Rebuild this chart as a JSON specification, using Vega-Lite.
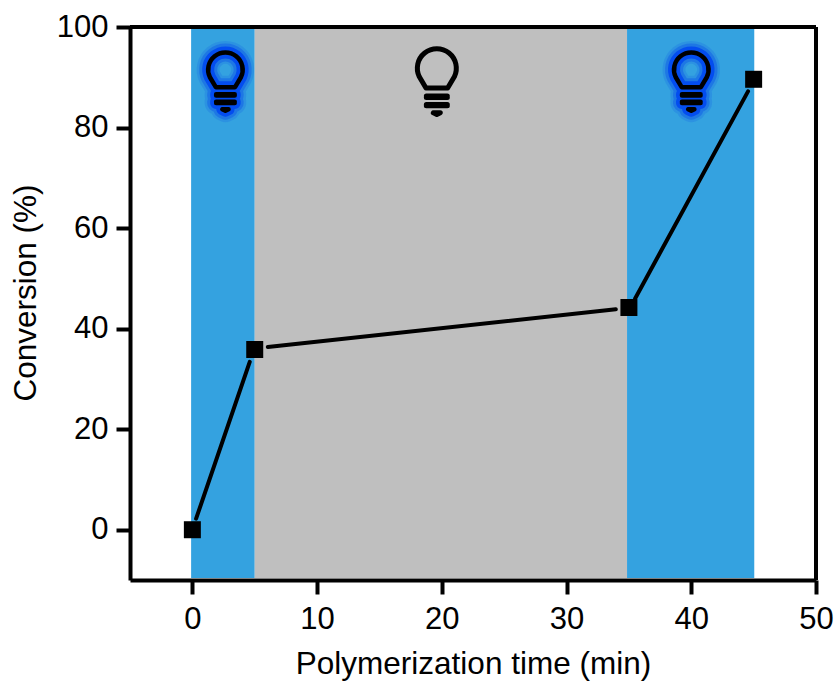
{
  "$schema": "https://vega.github.io/schema/vega-lite/v6.json",
  "width": 686,
  "height": 553,
  "autosize": "none",
  "padding": {"left": 130, "top": 27, "right": 20, "bottom": 102},
  "background": "white",
  "view": {"stroke": null},
  "config": {"font": "Liberation Sans"},
  "layer": [
    {
      "data": {"values": [
        {"start": -0.1, "end": 5, "low": -9.6, "high": 100, "state": "on"},
        {"start": 5, "end": 34.85, "low": -9.6, "high": 100, "state": "off"},
        {"start": 34.85, "end": 45.05, "low": -9.6, "high": 100, "state": "on"}
      ]},
      "mark": {"type": "rect"},
      "encoding": {
        "x": {"field": "start", "type": "quantitative", "scale": {"domain": [-5, 50], "nice": false, "zero": false},
          "axis": {"values": [0, 10, 20, 30, 40, 50], "title": "Polymerization time (min)", "titleFontSize": 31.5, "titleFontWeight": "normal", "titlePadding": 14, "labelFontSize": 31, "labelPadding": 10, "labelColor": "black", "titleColor": "black", "domainColor": "black", "domainWidth": 4, "tickColor": "black", "tickWidth": 4, "tickSize": 14, "grid": false, "zindex": 1, "labelFlush": false}},
        "x2": {"field": "end"},
        "y": {"field": "low", "type": "quantitative", "scale": {"domain": [-10, 100], "nice": false, "zero": false},
          "axis": {"values": [0, 20, 40, 60, 80, 100], "title": "Conversion (%)", "titleFontSize": 31.5, "titleFontWeight": "normal", "titlePadding": 14, "titleY": 265.5, "labelFontSize": 31, "labelPadding": 8, "labelColor": "black", "titleColor": "black", "domainColor": "black", "domainWidth": 4, "tickColor": "black", "tickWidth": 4, "tickSize": 14, "grid": false, "zindex": 1}},
        "y2": {"field": "high"},
        "color": {"field": "state", "type": "nominal", "scale": {"domain": ["on", "off"], "range": ["#34a2e0", "#bfbfbf"]}, "legend": null}
      }
    },
    {
      "data": {"values": [
        {"x0": 0.3, "y0": 2.2, "x1": 4.6, "y1": 33.4},
        {"x0": 6.05, "y0": 36.35, "x1": 33.95, "y1": 43.85},
        {"x0": 35.5, "y0": 46.0, "x1": 44.55, "y1": 87.2}
      ]},
      "mark": {"type": "rule", "color": "black", "strokeWidth": 4, "strokeCap": "round"},
      "encoding": {
        "x": {"field": "x0", "type": "quantitative"},
        "x2": {"field": "x1"},
        "y": {"field": "y0", "type": "quantitative"},
        "y2": {"field": "y1"}
      }
    },
    {
      "data": {"values": [
        {"time": 0, "conversion": 0},
        {"time": 5, "conversion": 35.85},
        {"time": 35, "conversion": 44.2},
        {"time": 45, "conversion": 89.6}
      ]},
      "mark": {"type": "point", "shape": "square", "filled": true, "color": "black", "size": 289, "opacity": 1},
      "encoding": {
        "x": {"field": "time", "type": "quantitative"},
        "y": {"field": "conversion", "type": "quantitative"}
      }
    },
    {
      "data": {"values": [{"bx": 2.65, "by": 89.26}, {"bx": 40, "by": 89.26}]},
      "mark": {"type": "point", "shape": "M-0.31 0.2 L-0.5 -0.12 A0.557 0.557 0 1 1 0.5 -0.12 L0.31 0.2 Z M-0.3 0.43 L0.3 0.43 M-0.3 0.47 L0.3 0.47 M-0.3 0.67 L0.3 0.67 M-0.3 0.71 L0.3 0.71 M-0.1 0.91 L0.1 0.91 L0 0.96 Z", "size": 3844, "filled": false, "stroke": "#0a50e8", "strokeWidth": 23, "strokeOpacity": 0.18, "opacity": 1, "strokeJoin": "round", "strokeCap": "round"},
      "encoding": {"x": {"field": "bx", "type": "quantitative"}, "y": {"field": "by", "type": "quantitative"}}
    },
    {
      "data": {"values": [{"bx": 2.65, "by": 89.26}, {"bx": 40, "by": 89.26}]},
      "mark": {"type": "point", "shape": "M-0.31 0.2 L-0.5 -0.12 A0.557 0.557 0 1 1 0.5 -0.12 L0.31 0.2 Z M-0.3 0.43 L0.3 0.43 M-0.3 0.47 L0.3 0.47 M-0.3 0.67 L0.3 0.67 M-0.3 0.71 L0.3 0.71 M-0.1 0.91 L0.1 0.91 L0 0.96 Z", "size": 3844, "filled": false, "stroke": "#0a50e8", "strokeWidth": 18, "strokeOpacity": 0.4, "opacity": 1, "strokeJoin": "round", "strokeCap": "round"},
      "encoding": {"x": {"field": "bx", "type": "quantitative"}, "y": {"field": "by", "type": "quantitative"}}
    },
    {
      "data": {"values": [{"bx": 2.65, "by": 89.26}, {"bx": 40, "by": 89.26}]},
      "mark": {"type": "point", "shape": "M-0.31 0.2 L-0.5 -0.12 A0.557 0.557 0 1 1 0.5 -0.12 L0.31 0.2 Z M-0.3 0.43 L0.3 0.43 M-0.3 0.47 L0.3 0.47 M-0.3 0.67 L0.3 0.67 M-0.3 0.71 L0.3 0.71 M-0.1 0.91 L0.1 0.91 L0 0.96 Z", "size": 3844, "filled": false, "stroke": "#0048f0", "strokeWidth": 12, "strokeOpacity": 0.9, "opacity": 1, "strokeJoin": "round", "strokeCap": "round"},
      "encoding": {"x": {"field": "bx", "type": "quantitative"}, "y": {"field": "by", "type": "quantitative"}}
    },
    {
      "data": {"values": [{"bx": 2.65, "by": 89.26}, {"bx": 40, "by": 89.26}]},
      "mark": {"type": "point", "shape": "M-0.31 0.2 L-0.5 -0.12 A0.557 0.557 0 1 1 0.5 -0.12 L0.31 0.2 Z M-0.3 0.43 L0.3 0.43 M-0.3 0.47 L0.3 0.47 M-0.3 0.67 L0.3 0.67 M-0.3 0.71 L0.3 0.71 M-0.1 0.91 L0.1 0.91 L0 0.96 Z", "size": 3844, "filled": false, "stroke": "black", "strokeWidth": 4.5, "opacity": 1, "strokeJoin": "round", "strokeCap": "round"},
      "encoding": {"x": {"field": "bx", "type": "quantitative"}, "y": {"field": "by", "type": "quantitative"}}
    },
    {
      "data": {"values": [{"bx": 19.6, "by": 89.26}]},
      "mark": {"type": "point", "shape": "M-0.31 0.2 L-0.5 -0.12 A0.557 0.557 0 1 1 0.5 -0.12 L0.31 0.2 Z M-0.3 0.43 L0.3 0.43 M-0.3 0.47 L0.3 0.47 M-0.3 0.67 L0.3 0.67 M-0.3 0.71 L0.3 0.71 M-0.1 0.91 L0.1 0.91 L0 0.96 Z", "size": 4900, "filled": false, "stroke": "black", "strokeWidth": 5, "opacity": 1, "strokeJoin": "round", "strokeCap": "round"},
      "encoding": {"x": {"field": "bx", "type": "quantitative"}, "y": {"field": "by", "type": "quantitative"}}
    },
    {
      "data": {"values": [{"edge": 50, "low": -10, "high": 100}]},
      "mark": {"type": "rule", "color": "black", "strokeWidth": 4},
      "encoding": {"x": {"field": "edge", "type": "quantitative"}, "y": {"field": "low", "type": "quantitative"}, "y2": {"field": "high"}}
    },
    {
      "data": {"values": [{"level": 100, "from": -5, "to": 50}]},
      "mark": {"type": "rule", "color": "black", "strokeWidth": 4},
      "encoding": {"y": {"field": "level", "type": "quantitative"}, "x": {"field": "from", "type": "quantitative"}, "x2": {"field": "to"}}
    }
  ]
}
